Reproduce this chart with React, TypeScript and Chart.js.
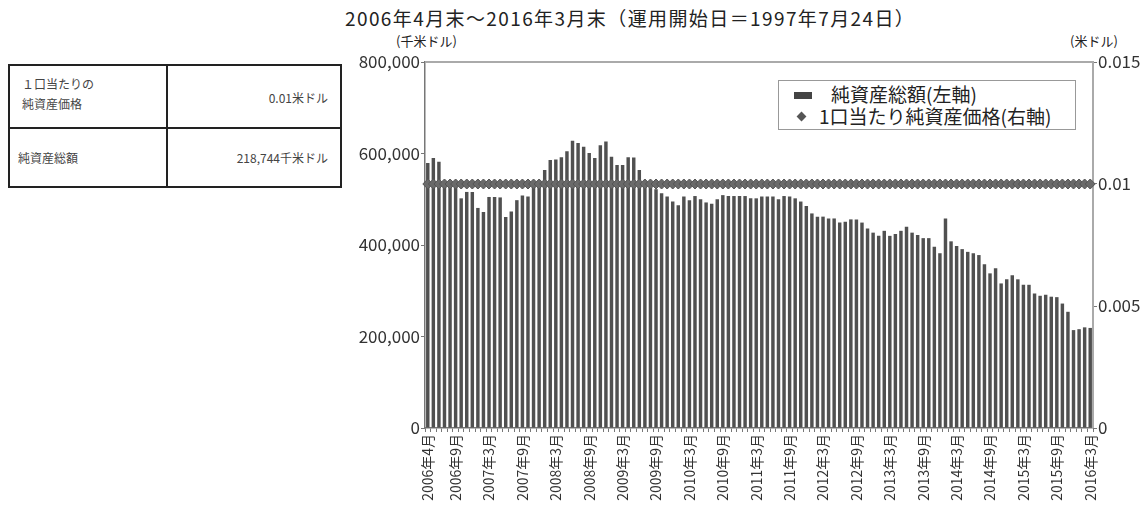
import { useEffect, useRef } from 'react';
import { Chart, registerables } from 'chart.js';

Chart.register(...registerables);

// Monthly categories: 2006年4月 ... 2016年3月 (120 months)
const firstYear = 2006;
const firstMonth = 4;
const monthCount = 120;
const categories: string[] = [];
for (let k = 0; k < monthCount; k++) {
  const m = firstMonth - 1 + k;
  categories.push(`${firstYear + Math.floor(m / 12)}年${(m % 12) + 1}月`);
}

// Tick labels shown on the x axis
const shownTickLabels = [
  '2006年4月', '2006年9月', '2007年3月', '2007年9月', '2008年3月', '2008年9月',
  '2009年3月', '2009年9月', '2010年3月', '2010年9月', '2011年3月', '2011年9月',
  '2012年3月', '2012年9月', '2013年3月', '2013年9月', '2014年3月', '2014年9月',
  '2015年3月', '2015年9月', '2016年3月',
];

// 純資産総額 (千米ドル), monthly
const netAssets = [
  579000, 590000, 582000, 540000, 535000, 528000, 502000, 516000, 516000, 481000, 472000, 505000,
  505000, 504000, 461000, 473000, 498000, 508000, 506000, 528000, 535000, 564000, 586000, 587000,
  592000, 605000, 628000, 623000, 615000, 601000, 590000, 618000, 626000, 593000, 575000, 575000,
  592000, 591000, 564000, 530000, 525000, 522000, 513000, 506000, 495000, 487000, 506000, 498000,
  507000, 500000, 493000, 490000, 500000, 509000, 507000, 507000, 507000, 507000, 502000, 502000,
  506000, 506000, 506000, 500000, 507000, 506000, 502000, 495000, 485000, 469000, 462000, 462000,
  458000, 458000, 449000, 451000, 456000, 456000, 449000, 436000, 427000, 420000, 431000, 420000,
  424000, 431000, 440000, 427000, 422000, 415000, 415000, 396000, 382000, 458000, 408000, 398000,
  391000, 385000, 382000, 378000, 358000, 338000, 349000, 316000, 325000, 334000, 325000, 313000,
  313000, 294000, 289000, 291000, 287000, 286000, 272000, 254000, 214000, 216000, 220000, 218744,
];

// 1口当たり純資産価格 (米ドル), monthly
const navPerUnit = [
  0.01, 0.01, 0.01, 0.01, 0.01, 0.01, 0.01, 0.01, 0.01, 0.01, 0.01, 0.01,
  0.01, 0.01, 0.01, 0.01, 0.01, 0.01, 0.01, 0.01, 0.01, 0.01, 0.01, 0.01,
  0.01, 0.01, 0.01, 0.01, 0.01, 0.01, 0.01, 0.01, 0.01, 0.01, 0.01, 0.01,
  0.01, 0.01, 0.01, 0.01, 0.01, 0.01, 0.01, 0.01, 0.01, 0.01, 0.01, 0.01,
  0.01, 0.01, 0.01, 0.01, 0.01, 0.01, 0.01, 0.01, 0.01, 0.01, 0.01, 0.01,
  0.01, 0.01, 0.01, 0.01, 0.01, 0.01, 0.01, 0.01, 0.01, 0.01, 0.01, 0.01,
  0.01, 0.01, 0.01, 0.01, 0.01, 0.01, 0.01, 0.01, 0.01, 0.01, 0.01, 0.01,
  0.01, 0.01, 0.01, 0.01, 0.01, 0.01, 0.01, 0.01, 0.01, 0.01, 0.01, 0.01,
  0.01, 0.01, 0.01, 0.01, 0.01, 0.01, 0.01, 0.01, 0.01, 0.01, 0.01, 0.01,
  0.01, 0.01, 0.01, 0.01, 0.01, 0.01, 0.01, 0.01, 0.01, 0.01, 0.01, 0.01,
];

const titleText = '2006年4月末～2016年3月末（運用開始日＝1997年7月24日）';
const leftUnit = '(千米ドル)';
const rightUnit = '(米ドル)';
const seriesNames = ['純資産総額(左軸)', '1口当たり純資産価格(右軸)'];
const tableRows = [
  ['１口当たりの\n純資産価格', '0.01米ドル'],
  ['純資産総額', '218,744千米ドル'],
];

const FONT = "'Noto Sans CJK JP', 'Noto Sans', sans-serif";

const framePlugin = {
  id: 'frame',
  beforeDatasetsDraw(chart: any) {
    const { ctx, chartArea } = chart;
    ctx.save();
    ctx.strokeStyle = '#aaaaaa';
    ctx.lineWidth = 2;
    ctx.beginPath();
    ctx.moveTo(chartArea.left, chartArea.top);
    ctx.lineTo(chartArea.right, chartArea.top);
    ctx.lineTo(chartArea.right, chartArea.bottom);
    ctx.stroke();
    ctx.restore();
  },
};

export default function App() {
  const canvasRef = useRef<HTMLCanvasElement | null>(null);

  useEffect(() => {
    const canvas = canvasRef.current;
    if (!canvas) return;
    const chart = new Chart(canvas, {
      type: 'bar',
      data: {
        labels: categories,
        datasets: [
          {
            type: 'line',
            label: seriesNames[1],
            data: navPerUnit,
            yAxisID: 'y1',
            borderColor: '#666666',
            borderWidth: 2,
            backgroundColor: '#666666',
            pointStyle: 'rectRot',
            pointRadius: 5,
            pointBackgroundColor: '#6a6a6a',
            pointBorderColor: '#555555',
            pointBorderWidth: 1,
            order: 0,
          } as any,
          {
            type: 'bar',
            label: seriesNames[0],
            data: netAssets,
            yAxisID: 'y',
            backgroundColor: '#505050',
            borderWidth: 0,
            barPercentage: 0.62,
            categoryPercentage: 1,
            order: 1,
          } as any,
        ],
      },
      options: {
        responsive: false,
        animation: false,
        layout: { padding: { top: 62, left: 0, right: 0, bottom: 0 } },
        plugins: {
          legend: { display: false },
          tooltip: { enabled: false },
          title: { display: false },
        },
        scales: {
          x: {
            grid: {
              display: true,
              drawOnChartArea: false,
              drawTicks: true,
              tickLength: 4,
              color: '#777777',
            },
            border: { display: true, color: '#777777', width: 1.5 },
            ticks: {
              autoSkip: false,
              minRotation: 90,
              maxRotation: 90,
              padding: 2,
              color: '#333333',
              font: { family: FONT, size: 14 },
              callback: (_v: any, i: number) =>
                shownTickLabels.includes(categories[i]) ? categories[i] : '',
            },
            afterFit: (scale: any) => {
              scale.height = 84;
            },
          },
          y: {
            position: 'left',
            min: 0,
            max: 800000,
            grid: {
              drawOnChartArea: false,
              drawTicks: true,
              tickLength: 4,
              color: '#777777',
            },
            border: { display: true, color: '#777777', width: 1.5 },
            ticks: {
              stepSize: 200000,
              padding: 1,
              color: '#333333',
              font: { family: FONT, size: 17 },
              callback: (v: any) => Number(v).toLocaleString('en-US'),
            },
            afterFit: (scale: any) => {
              scale.width = 85;
            },
          },
          y1: {
            position: 'right',
            min: 0,
            max: 0.015,
            grid: {
              drawOnChartArea: false,
              drawTicks: true,
              tickLength: 4,
              color: '#777777',
            },
            border: { display: false },
            ticks: {
              stepSize: 0.005,
              padding: 1,
              color: '#333333',
              font: { family: FONT, size: 17 },
              callback: (v: any) => String(Number(Number(v).toFixed(4))),
            },
            afterFit: (scale: any) => {
              scale.width = 50;
            },
          },
        },
      } as any,
      plugins: [framePlugin],
    });
    return () => chart.destroy();
  }, []);

  const cellText: React.CSSProperties = {
    position: 'absolute',
    fontSize: 12,
    lineHeight: '20px',
    color: '#444444',
    whiteSpace: 'pre',
  };

  return (
    <div
      style={{
        position: 'fixed',
        left: 0,
        top: 0,
        width: 1143,
        height: 512,
        background: '#ffffff',
        fontFamily: FONT,
        overflow: 'hidden',
      }}
    >
      {/* Info table */}
      <div
        style={{
          position: 'absolute',
          left: 8,
          top: 64,
          width: 330,
          height: 120,
          border: '2px solid #222222',
        }}
      >
        <div style={{ position: 'absolute', left: 156, top: 0, width: 2, height: 120, background: '#222222' }} />
        <div style={{ position: 'absolute', left: 0, top: 61, width: 330, height: 2, background: '#222222' }} />
        <div style={{ ...cellText, left: 12, top: 8 }}>{tableRows[0][0]}</div>
        <div style={{ ...cellText, right: 12, top: 22, textAlign: 'right' }}>{tableRows[0][1]}</div>
        <div style={{ ...cellText, left: 8, top: 82 }}>{tableRows[1][0]}</div>
        <div style={{ ...cellText, right: 12, top: 82, textAlign: 'right' }}>{tableRows[1][1]}</div>
      </div>

      {/* Title */}
      <div
        style={{
          position: 'absolute',
          left: 345,
          top: 6,
          fontSize: 19,
          lineHeight: '24px',
          letterSpacing: 1.4,
          color: '#222222',
          whiteSpace: 'nowrap',
        }}
      >
        {titleText}
      </div>

      {/* Axis units */}
      <div style={{ position: 'absolute', left: 396, top: 32, fontSize: 13, lineHeight: '18px', color: '#222222', whiteSpace: 'nowrap' }}>
        {leftUnit}
      </div>
      <div style={{ position: 'absolute', left: 1070, top: 32, fontSize: 13, lineHeight: '18px', color: '#222222', whiteSpace: 'nowrap' }}>
        {rightUnit}
      </div>

      {/* Chart */}
      <div style={{ position: 'absolute', left: 340, top: 0, width: 803, height: 512 }}>
        <canvas ref={canvasRef} width={803} height={512} style={{ width: 803, height: 512, display: 'block' }} />
      </div>

      {/* Legend */}
      <div
        style={{
          position: 'absolute',
          left: 778,
          top: 80,
          width: 296,
          height: 48,
          border: '1.5px solid #999999',
          background: '#ffffff',
        }}
      >
        <div style={{ position: 'absolute', left: 15, top: 11, width: 18, height: 7, background: '#444444' }} />
        <div
          style={{
            position: 'absolute',
            left: 19,
            top: 32,
            width: 7,
            height: 7,
            background: '#555555',
            transform: 'rotate(45deg)',
          }}
        />
        <div style={{ position: 'absolute', left: 52, top: 2, fontSize: 19, lineHeight: '22px', color: '#222222', whiteSpace: 'nowrap' }}>
          {seriesNames[0]}
        </div>
        <div style={{ position: 'absolute', left: 40, top: 24, fontSize: 19, lineHeight: '22px', color: '#222222', whiteSpace: 'nowrap' }}>
          {seriesNames[1]}
        </div>
      </div>
    </div>
  );
}
